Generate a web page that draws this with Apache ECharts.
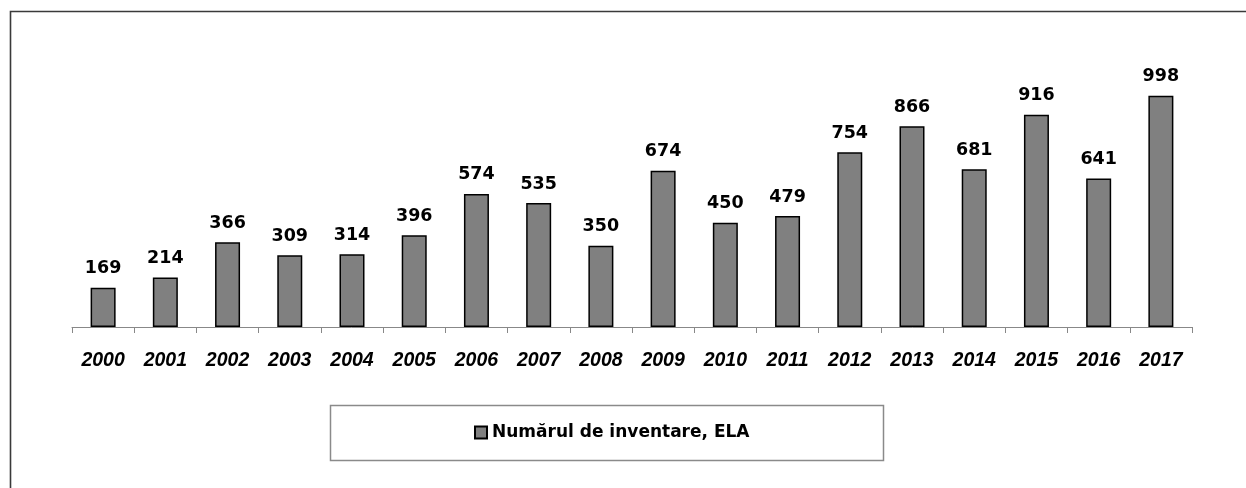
<!DOCTYPE html>
<html>
<head>
<meta charset="utf-8">
<script src="https://cdn.jsdelivr.net/npm/echarts@6/dist/echarts.min.js"></script>
<style>
  html, body { margin: 0; padding: 0; background: #fff; }
  #chart { width: 1246px; height: 488px; }
</style>
</head>
<body>
<div id="chart"></div>
<script>
var years = ['2000', '2001', '2002', '2003', '2004', '2005', '2006', '2007', '2008',
             '2009', '2010', '2011', '2012', '2013', '2014', '2015', '2016', '2017'];
var inventare = [169, 214, 366, 309, 314, 396, 574, 535, 350,
                 674, 450, 479, 754, 866, 681, 916, 641, 998];
var seriesName = 'Numărul de inventare, ELA';

var myChart = echarts.init(document.getElementById('chart'));
var option = {
    animation: false,
    backgroundColor: '#fff',
    graphic: [
        {
            type: 'rect',
            shape: { x: 10.5, y: 11.5, width: 1300, height: 600 },
            style: { fill: 'none', stroke: '#3a3a3a', lineWidth: 1.6 },
            silent: true
        },
        {
            type: 'rect',
            shape: { x: 330.5, y: 405.5, width: 553, height: 55 },
            style: { fill: 'none', stroke: '#8a8a8a', lineWidth: 1.5 },
            silent: true
        }
    ],
    grid: {
        left: 72,
        right: 54,
        top: 50,
        bottom: 161
    },
    legend: {
        left: 474,
        top: 424,
        padding: 0,
        icon: 'rect',
        itemWidth: 12,
        itemHeight: 12,
        textStyle: {
            fontFamily: 'DejaVu Sans',
            fontWeight: 'bold',
            fontSize: 17,
            color: '#000'
        },
        data: [seriesName]
    },
    xAxis: {
        type: 'category',
        data: years,
        axisLine: { lineStyle: { color: '#888', width: 1 } },
        axisTick: { show: true, length: 6, lineStyle: { color: '#888' } },
        axisLabel: {
            margin: 24,
            fontFamily: 'Liberation Sans',
            fontWeight: 'bold',
            fontStyle: 'italic',
            fontSize: 19.5,
            color: '#000'
        }
    },
    yAxis: {
        type: 'value',
        min: 0,
        max: 1195,
        show: false,
        splitLine: { show: false }
    },
    series: [{
        name: seriesName,
        type: 'bar',
        data: inventare,
        barWidth: 25,
        itemStyle: {
            color: '#808080',
            borderColor: '#000',
            borderWidth: 1.5
        },
        label: {
            show: true,
            position: 'top',
            distance: 10,
            fontFamily: 'DejaVu Sans',
            fontWeight: 'bold',
            fontSize: 17.5,
            color: '#000'
        }
    }]
};
myChart.setOption(option);
</script>
</body>
</html>
